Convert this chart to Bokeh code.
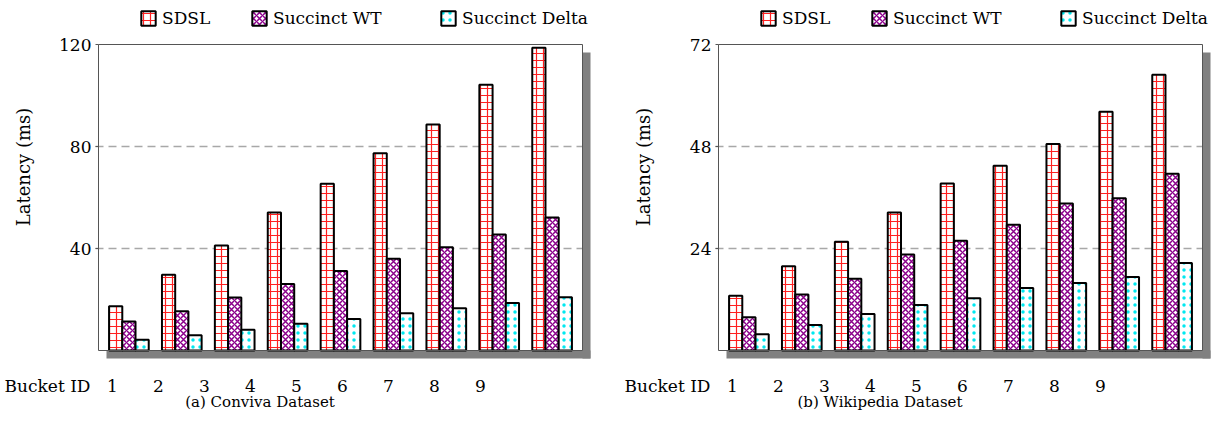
import math
from bokeh.plotting import figure
from bokeh.models import ColumnDataSource, Range1d, Legend, LegendItem, Label
from bokeh.core.properties import value
from bokeh.layouts import row
from bokeh.embed import file_html
from bokeh.resources import INLINE

# ---------------- data ----------------
buckets = [1, 2, 3, 4, 5, 6, 7, 8, 9]
bucket_labels = ["1", "2", "3", "4", "5", "6", "7", "8", "9"]
series_names = ["SDSL", "Succinct WT", "Succinct Delta"]

conviva_sdsl = [17.4, 29.7, 41.2, 54.1, 65.4, 77.4, 88.6, 104.2, 118.7]
conviva_wt = [11.4, 15.4, 20.8, 26.1, 31.2, 36.0, 40.5, 45.5, 52.2]
conviva_delta = [4.2, 6.0, 8.1, 10.5, 12.4, 14.6, 16.6, 18.6, 20.9]
conviva_yticks = [40, 80, 120]

wiki_sdsl = [12.9, 19.8, 25.6, 32.5, 39.3, 43.5, 48.6, 56.2, 64.9]
wiki_wt = [7.8, 13.2, 16.9, 22.6, 25.8, 29.6, 34.6, 35.8, 41.6]
wiki_delta = [3.8, 6.0, 8.6, 10.7, 12.3, 14.7, 15.9, 17.3, 20.6]
wiki_yticks = [24, 48, 72]

captions = ["(a) Conviva Dataset", "(b) Wikipedia Dataset"]
y_title = "Latency (ms)"
x_title = "Bucket ID"

# ---------------- style / layout (pixels) ----------------
FONT = "DejaVu Serif"
STYLES = [
    dict(hatch_pattern="+", hatch_color="#ff2020", hatch_scale=7, hatch_weight=1.2),
    dict(hatch_pattern="x", hatch_color="#8b008b", hatch_scale=6, hatch_weight=1.5),
    dict(hatch_pattern=".", hatch_color="#00e8f0", hatch_scale=7, hatch_weight=2.5),
]
OFFSETS = [-0.25, 0.0, 0.25]
BAR_W = 0.25

FIG_H = 436
PLOT_LEFT, PLOT_TOP, PLOT_BOTTOM = 98, 44, 350   # plot box in figure px
PLOT_W_PX = 484
SHADOW = 8
GROUP_PX = 52.9                                   # px per bucket
LABEL_PX0, LABEL_DPX = 14, 46                     # x tick label centres from plot left
XLABEL_BASE = 385                                 # baseline of the tick-label row
LEGEND_X = [139, 250, 439]
LEGEND_TOP = 10
CAPTION_X, CAPTION_BASE = 259.5, 401
YTITLE_X, YTITLE_Y = 23, 166.5


def make_panel(sdsl, wt, delta, yticks, caption, fig_w):
    ymax = yticks[-1]
    ppu_y = (PLOT_BOTTOM - PLOT_TOP) / ymax
    center_px = PLOT_LEFT + PLOT_W_PX / 2

    def dx(px):   # figure px -> data x
        return 5 + (px - center_px) / GROUP_PX

    def dy(py):   # figure px (from top) -> data y
        return (PLOT_BOTTOM - py) / ppu_y

    x_lo, x_hi = dx(PLOT_LEFT), dx(PLOT_LEFT + PLOT_W_PX)
    sx, sy = SHADOW / GROUP_PX, SHADOW / ppu_y

    p = figure(width=fig_w, height=FIG_H, output_backend="svg", toolbar_location=None,
               x_range=Range1d(dx(0), dx(fig_w)), y_range=Range1d(dy(FIG_H), dy(0)),
               x_axis_location=None, y_axis_location=None,
               min_border=0, min_border_left=0, min_border_right=0,
               min_border_top=0, min_border_bottom=0)
    p.outline_line_color = None
    p.background_fill_color = "white"
    p.border_fill_color = "white"
    p.grid.visible = False

    # dashed horizontal grid lines + small tick marks
    gt = yticks[:-1]
    p.segment(x0=[x_lo - 3 / GROUP_PX] * len(gt), x1=[x_hi] * len(gt), y0=gt, y1=gt,
              line_color="#a8a8a8", line_width=1.3, line_dash="8 5")
    p.segment(x0=[x_lo - 3 / GROUP_PX] * len(yticks), x1=[x_lo] * len(yticks),
              y0=yticks, y1=yticks, line_color="#555555", line_width=1)

    # shadow (right strip + bottom strip)
    p.quad(left=[x_hi, x_lo + sx], right=[x_hi + sx, x_hi + sx],
           bottom=[-sy, -sy], top=[ymax - sy, 0],
           fill_color="#808080", line_color=None)

    renderers = []
    for vals, off, st in zip([sdsl, wt, delta], OFFSETS, STYLES):
        src = ColumnDataSource(dict(x=[b + off for b in buckets], top=vals))
        r = p.vbar(x="x", top="top", width=BAR_W, bottom=0, source=src,
                   fill_color="white", line_color="black", line_width=2, **st)
        renderers.append(r)

    # plot box border
    p.quad(left=[x_lo], right=[x_hi], bottom=[0], top=[ymax],
           fill_color=None, line_color="#555555", line_width=1)

    txt = dict(text_font=value(FONT), text_font_size="17px", text_color="black")
    # y tick labels
    p.text(x=[x_lo - 7 / GROUP_PX] * len(yticks), y=yticks, text=[str(t) for t in yticks],
           text_align="right", text_baseline="middle", **txt)
    # x tick labels
    tick_pos = [dx(PLOT_LEFT + LABEL_PX0 + LABEL_DPX * i) for i in range(len(buckets))]
    p.text(x=tick_pos, y=[dy(XLABEL_BASE)] * len(tick_pos), text=bucket_labels,
           text_align="center", text_baseline="alphabetic", **txt)
    p.text(x=[dx(PLOT_LEFT - 8)], y=[dy(XLABEL_BASE)], text=[x_title],
           text_align="right", text_baseline="alphabetic", **txt)

    # y title and caption
    p.add_layout(Label(x=YTITLE_X, y=FIG_H - YTITLE_Y, x_units="screen", y_units="screen",
                       text=y_title, angle=math.pi / 2, text_align="center",
                       text_baseline="middle", text_font=FONT, text_font_size="18px",
                       text_color="black"))
    p.add_layout(Label(x=CAPTION_X, y=FIG_H - CAPTION_BASE, x_units="screen", y_units="screen",
                       text=caption, text_align="center", text_baseline="alphabetic",
                       text_font=FONT, text_font_size="15px", text_color="black"))

    # legends (one per series, placed like the reference)
    for r, name, lx in zip(renderers, series_names, LEGEND_X):
        lg = Legend(items=[LegendItem(label=name, renderers=[r])],
                    location=(lx, FIG_H - LEGEND_TOP - 18),
                    orientation="horizontal", padding=0, margin=0, spacing=0,
                    border_line_color=None, background_fill_alpha=0,
                    glyph_width=18, glyph_height=18, label_height=18,
                    label_standoff=5, label_text_font=FONT,
                    label_text_font_size="17px", label_text_color="black")
        p.add_layout(lg)
    return p


p1 = make_panel(conviva_sdsl, conviva_wt, conviva_delta, conviva_yticks, captions[0], 620)
p2 = make_panel(wiki_sdsl, wiki_wt, wiki_delta, wiki_yticks, captions[1], 601)
layout = row(p1, p2)

open("out.html", "w").write(file_html(layout, INLINE))
